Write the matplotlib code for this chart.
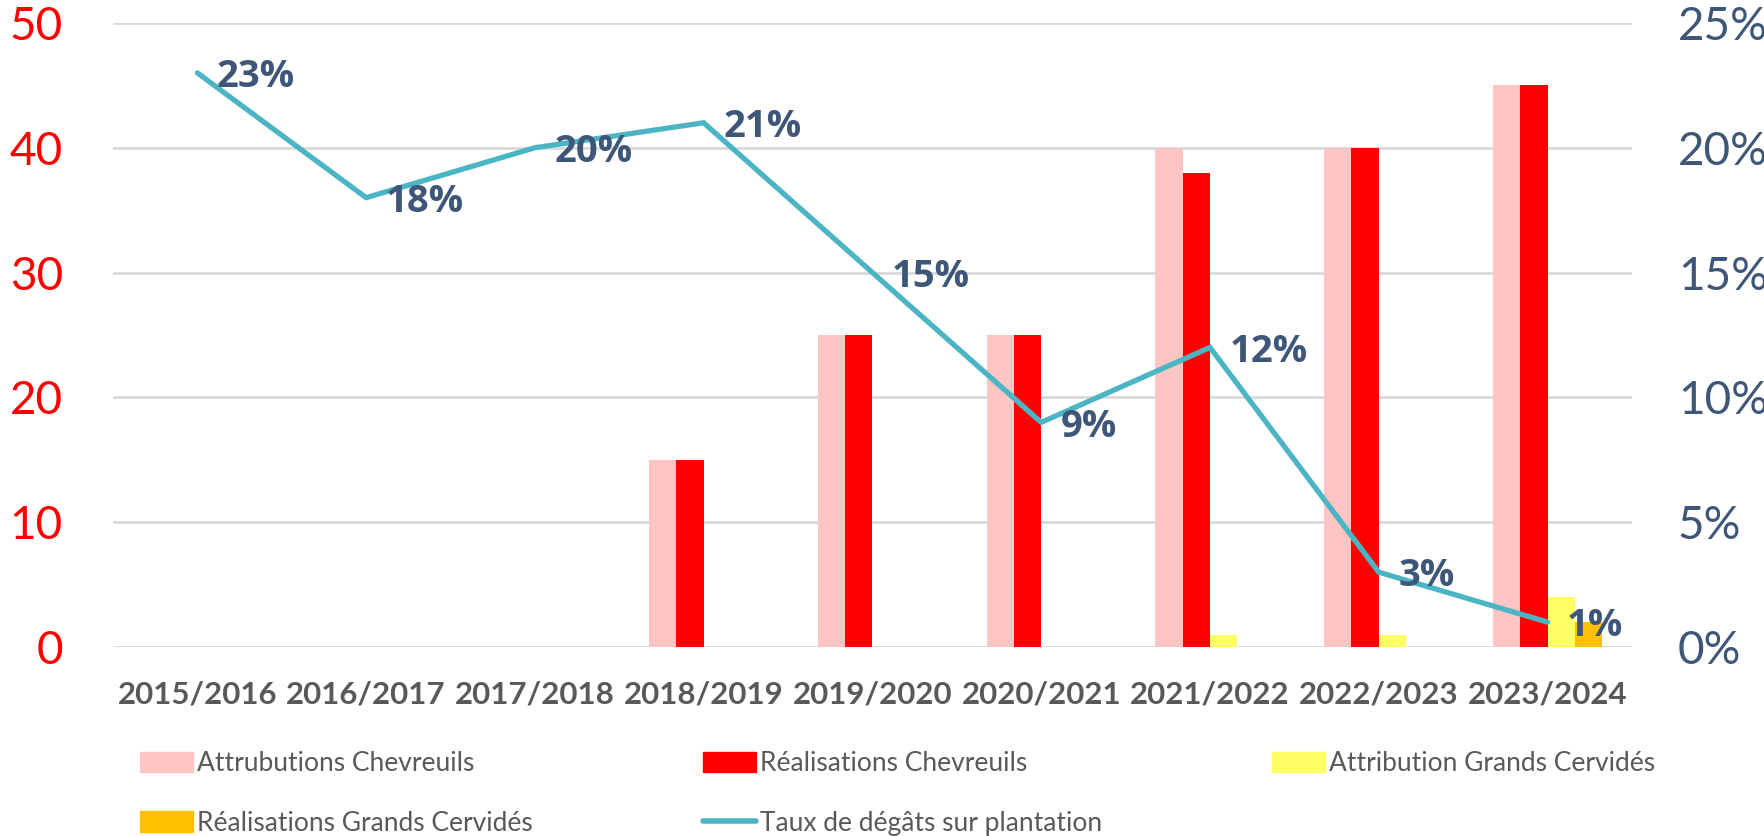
import numpy as np
import matplotlib
matplotlib.use("Agg")
import matplotlib.pyplot as plt
from matplotlib.patches import Patch
from matplotlib.lines import Line2D

# Donnees
saisons = ["2015/2016", "2016/2017", "2017/2018", "2018/2019", "2019/2020",
           "2020/2021", "2021/2022", "2022/2023", "2023/2024"]
attrib_chevreuils = [0, 0, 0, 15, 25, 25, 40, 40, 45]
real_chevreuils = [0, 0, 0, 15, 25, 25, 38, 40, 45]
attrib_grands = [0, 0, 0, 0, 0, 0, 1, 1, 4]
real_grands = [0, 0, 0, 0, 0, 0, 0, 0, 2]
taux_degats = [23, 18, 20, 21, 15, 9, 12, 3, 1]

c_rose = "#FFC4C4"
c_rouge = "#FF0000"
c_jaune = "#FFFF66"
c_orange = "#FFC000"
c_ligne = "#4BB5C5"
c_label = "#3E5778"
c_gris = "#595959"

fig = plt.figure(figsize=(17.65, 8.36), dpi=100)
ax = fig.add_axes([0.064, 0.226, 0.8606, 0.7466])

x = np.arange(len(saisons))
w = 0.162
series = [attrib_chevreuils, real_chevreuils, attrib_grands, real_grands]
couleurs = [c_rose, c_rouge, c_jaune, c_orange]
for i, (vals, col) in enumerate(zip(series, couleurs)):
    ax.bar(x + (i - 1.5) * w, vals, width=w, color=col, zorder=3)

ax.set_xlim(-0.5, len(saisons) - 0.5)
ax.set_ylim(0, 50)
ax.set_yticks(range(0, 51, 10))
ax.yaxis.grid(True, color="#D9D9D9", linewidth=2, zorder=0)
ax.set_axisbelow(True)
for s in ax.spines.values():
    s.set_visible(False)
ax.tick_params(axis="both", length=0)
ax.tick_params(axis="y", pad=36, labelsize=33, labelcolor=c_rouge)
for lab in ax.get_yticklabels():
    lab.set_family("Lato")
ax.set_xticks(x)
ax.set_xticklabels(saisons, fontsize=22.5, fontweight="bold", color=c_gris,
                   family="Lato")
ax.tick_params(axis="x", pad=24)

# Axe secondaire : taux de degats
ax2 = ax.twinx()
ax2.set_ylim(0, 25)
ax2.set_yticks(range(0, 26, 5))
ax2.set_yticklabels([f"{v}%" for v in range(0, 26, 5)])
for s in ax2.spines.values():
    s.set_visible(False)
ax2.tick_params(axis="y", length=0, pad=33, labelsize=33, labelcolor=c_label)
for lab in ax2.get_yticklabels():
    lab.set_family("Lato")
ax2.plot(x, taux_degats, color=c_ligne, linewidth=3.8, solid_capstyle="round",
         solid_joinstyle="miter", zorder=4)
for xi, v in zip(x, taux_degats):
    ax2.annotate(f"{v}%", (xi, v), xytext=(14, -3), textcoords="offset points",
                 ha="left", va="center", fontsize=27.5, fontweight="bold",
                 color=c_label, family="Open Sans", zorder=5)

# Legende
handles = [
    Patch(color=c_rose, label="Attrubutions Chevreuils"),
    Patch(color=c_orange, label="Réalisations Grands Cervidés"),
    Patch(color=c_rouge, label="Réalisations Chevreuils"),
    Line2D([0], [0], color=c_ligne, linewidth=4, solid_capstyle="round",
           label="Taux de dégâts sur plantation"),
    Patch(color=c_jaune, label="Attribution Grands Cervidés"),
]
leg = fig.legend(handles=handles, ncol=3, loc="lower left",
                 bbox_to_anchor=(0.066, -0.028, 0.885, 0.12), mode="expand",
                 frameon=False, handlelength=2.0, handleheight=0.8,
                 handletextpad=0.15, labelspacing=1.3,
                 prop={"family": "Lato", "size": 19})
for t in leg.get_texts():
    t.set_color(c_gris)

fig.savefig("out.png", dpi=100)
